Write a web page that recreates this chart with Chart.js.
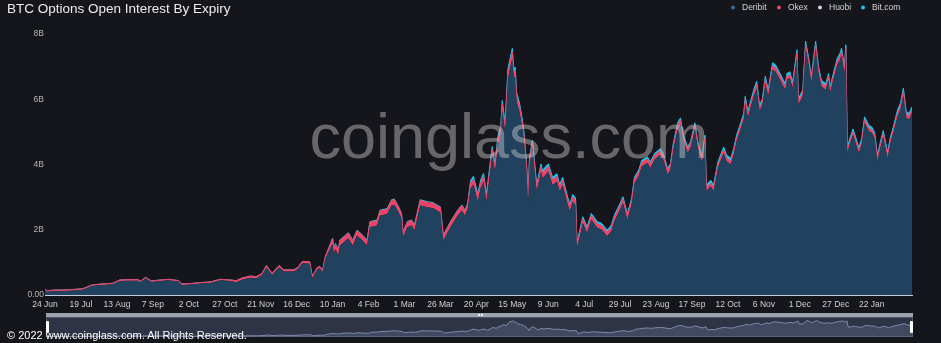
<!DOCTYPE html>
<html><head><meta charset="utf-8">
<script src="https://cdn.jsdelivr.net/npm/chart.js@4"></script>
<style>
html,body{margin:0;padding:0;background:#15161b;}
#wrap{position:relative;width:941px;height:343px;overflow:hidden;background:#15161b;}
#c{position:absolute;left:0;top:0;}
#zoombar{position:absolute;left:46px;top:313px;width:867px;height:4px;background:#9da2ad;}
#zoombody{position:absolute;left:46px;top:317px;width:867px;height:20px;background:#2e3446;box-shadow:inset 0 0 0 1px #50576f;}
#mini{position:absolute;left:46px;top:317px;}
.handle{position:absolute;top:321px;width:3px;height:12px;background:#fff;border-radius:1px;z-index:3;}
.grip{position:absolute;top:314px;width:2px;height:2px;background:#f0f0f0;z-index:3;}
#copy{position:absolute;left:7px;top:329px;font:11px 'Liberation Sans',Arial,sans-serif;color:#fff;z-index:5;white-space:nowrap;line-height:13px;}
</style></head>
<body>
<div id="wrap">
<canvas id="c" width="941" height="343"></canvas>
<div id="zoombar"></div>
<div id="zoombody"></div>
<canvas id="mini" width="867" height="20"></canvas>
<div class="handle" style="left:46px"></div>
<div class="handle" style="left:910px"></div>
<div class="grip" style="left:478px"></div>
<div class="grip" style="left:481px"></div>
<div id="copy">© 2022 www.coinglass.com. All Rights Reserved.</div>
</div>
<script>
// day index since 24 Jun 2020
const days = [
0,1,7,17,26,29,33,40,47,52,
57,65,66,70,74,80,86,93,95,101,
108,115,122,129,133,137,143,147,151,154,
158,161,163,166,173,176,179,184,186,189,
191,193,195,200,201,202,204,205,211,214,
217,221,224,226,231,233,238,241,243,246,
248,249,252,255,257,261,266,270,275,277,
282,287,290,292,294,296,298,301,303,305,
307,311,313,315,317,318,320,322,325,326,
327,328,330,332,333,335,336,337,339,342,
345,346,350,353,356,358,360,363,365,367,
369,370,372,374,377,380,384,387,391,394,
396,400,402,405,408,410,413,415,419,421,
424,428,430,433,435,437,440,442,444,447,
449,452,454,457,459,460,463,465,468,472,
474,477,479,481,483,486,487,489,490,493,
495,497,499,501,503,506,508,510,513,515,
516,518,520,523,524,527,529,531,533,536,
538,540,543,545,546,548,551,553,554,556,
557,558,560,562,566,568,570,573,575,577,
579,581,583,586,588,590,593,595,597,599,
601,603];

// open interest, billions USD
const deribit = [
0.15,0.10,0.12,0.13,0.16,0.21,0.28,0.31,0.33,0.43,
0.44,0.44,0.38,0.51,0.40,0.43,0.45,0.41,0.31,0.32,
0.35,0.37,0.45,0.43,0.39,0.47,0.53,0.51,0.61,0.84,
0.61,0.77,0.84,0.72,0.72,0.80,0.97,0.96,0.51,0.77,
0.83,0.70,1.12,1.57,1.26,1.41,1.21,1.51,1.74,1.51,
1.82,1.66,1.51,2.08,2.13,2.43,2.48,2.74,2.76,2.53,
2.33,1.77,2.08,2.13,1.98,2.74,2.69,2.66,2.53,1.67,
2.08,2.43,2.59,2.43,2.64,3.27,3.39,2.86,3.27,3.48,
2.86,4.29,3.78,4.60,4.91,5.67,5.01,6.64,7.25,6.64,
6.69,5.93,5.62,5.11,4.80,3.74,2.86,3.99,4.50,3.17,
3.78,3.58,3.78,3.37,3.48,3.17,3.37,2.86,2.56,2.86,
2.76,1.44,1.80,2.21,1.90,2.31,2.06,2.01,1.80,1.96,
2.26,2.62,2.82,2.31,2.77,3.43,3.64,3.94,4.05,3.89,
4.15,4.30,4.15,3.69,3.84,4.46,5.07,5.22,4.71,4.35,
4.51,5.07,4.51,4.05,4.71,3.18,3.33,3.18,3.89,4.35,
4.10,4.00,4.30,4.71,4.97,5.38,5.88,5.43,5.63,6.09,
6.34,5.63,5.83,6.50,6.09,6.91,6.85,6.70,6.44,6.29,
6.60,6.65,6.34,7.31,5.83,6.09,7.57,7.11,6.50,7.57,
6.80,6.39,6.29,6.60,6.19,6.55,7.06,7.21,7.36,6.80,
7.46,4.35,4.66,4.91,4.35,4.61,5.27,5.02,4.97,4.81,
4.10,4.51,4.86,4.20,4.66,4.97,5.48,5.68,6.14,5.43,
5.38,5.58];

const okex = [
0.03,0.03,0.03,0.03,0.03,0.03,0.03,0.03,0.03,0.03,
0.03,0.03,0.03,0.03,0.03,0.03,0.03,0.03,0.03,0.03,
0.03,0.03,0.03,0.03,0.05,0.05,0.05,0.05,0.05,0.06,
0.05,0.05,0.06,0.05,0.05,0.05,0.06,0.06,0.05,0.05,
0.05,0.05,0.06,0.15,0.15,0.15,0.15,0.15,0.15,0.15,
0.15,0.15,0.15,0.15,0.15,0.15,0.15,0.16,0.16,0.15,
0.15,0.14,0.15,0.15,0.15,0.16,0.15,0.15,0.15,0.14,
0.15,0.15,0.15,0.15,0.15,0.16,0.16,0.15,0.16,0.16,
0.15,0.17,0.16,0.17,0.17,0.18,0.17,0.19,0.20,0.19,
0.19,0.18,0.17,0.17,0.16,0.15,0.14,0.15,0.16,0.14,
0.15,0.15,0.15,0.15,0.15,0.14,0.15,0.14,0.14,0.14,
0.14,0.12,0.12,0.12,0.12,0.12,0.12,0.12,0.12,0.12,
0.12,0.12,0.12,0.12,0.12,0.12,0.12,0.12,0.12,0.12,
0.12,0.12,0.12,0.12,0.12,0.12,0.13,0.13,0.12,0.12,
0.12,0.13,0.12,0.12,0.10,0.10,0.10,0.10,0.10,0.10,
0.10,0.10,0.10,0.10,0.10,0.10,0.11,0.10,0.10,0.11,
0.11,0.10,0.10,0.11,0.10,0.11,0.11,0.10,0.10,0.10,
0.10,0.10,0.10,0.11,0.10,0.10,0.11,0.10,0.10,0.11,
0.10,0.10,0.10,0.10,0.10,0.10,0.10,0.11,0.11,0.10,
0.11,0.09,0.09,0.09,0.09,0.09,0.10,0.09,0.09,0.09,
0.09,0.09,0.09,0.09,0.09,0.09,0.10,0.10,0.10,0.10,
0.10,0.10];

const huobi = [
0,0,0,0,0,0,0,0,0,0,
0,0,0,0,0,0,0,0,0,0,
0,0,0,0,0,0,0,0,0,0,
0,0,0,0,0,0,0,0,0,0,
0,0,0,0.01,0.01,0.01,0.01,0.01,0.01,0.01,
0.01,0.01,0.01,0.01,0.01,0.01,0.01,0.01,0.01,0.01,
0.01,0.01,0.01,0.01,0.01,0.01,0.01,0.01,0.01,0.01,
0.01,0.01,0.01,0.01,0.01,0.01,0.01,0.01,0.01,0.01,
0.01,0.01,0.01,0.01,0.01,0.01,0.01,0.01,0.01,0.01,
0.01,0.01,0.01,0.01,0.01,0.01,0.01,0.01,0.01,0.01,
0.01,0.01,0.01,0.01,0.01,0.01,0.01,0.01,0.01,0.01,
0.01,0.01,0.01,0.01,0.01,0.01,0.01,0.01,0.01,0.01,
0.01,0.01,0.01,0.01,0.01,0.01,0.01,0.01,0.01,0.01,
0.01,0.01,0.01,0.01,0.01,0.01,0.01,0.01,0.01,0.01,
0.01,0.01,0.01,0.01,0.01,0.01,0.01,0.01,0.01,0.01,
0.01,0.01,0.01,0.01,0.01,0.01,0.01,0.01,0.01,0.01,
0.01,0.01,0.01,0.01,0.01,0.01,0.01,0.01,0.01,0.01,
0.01,0.01,0.01,0.01,0.01,0.01,0.01,0.01,0.01,0.01,
0.01,0.01,0.01,0.01,0.01,0.01,0.01,0.01,0.01,0.01,
0.01,0.01,0.01,0.01,0.01,0.01,0.01,0.01,0.01,0.01,
0.01,0.01,0.01,0.01,0.01,0.01,0.01,0.01,0.01,0.01,
0.01,0.01];

const bitcom = [
0,0,0,0,0,0,0,0,0,0,
0,0,0,0,0,0,0,0,0,0,
0,0,0,0,0,0,0,0,0,0,
0,0,0,0,0,0,0,0,0,0,
0,0,0,0.01,0.01,0.01,0.01,0.01,0.01,0.01,
0.01,0.01,0.01,0.01,0.01,0.01,0.01,0.01,0.01,0.01,
0.01,0.01,0.01,0.01,0.01,0.01,0.01,0.01,0.01,0.01,
0.01,0.01,0.01,0.01,0.01,0.07,0.08,0.07,0.08,0.08,
0.07,0.08,0.08,0.09,0.09,0.10,0.09,0.10,0.10,0.10,
0.10,0.09,0.09,0.08,0.08,0.07,0.07,0.08,0.08,0.07,
0.08,0.08,0.08,0.08,0.08,0.07,0.08,0.07,0.07,0.07,
0.07,0.06,0.06,0.06,0.06,0.06,0.06,0.06,0.06,0.06,
0.06,0.06,0.06,0.06,0.06,0.06,0.06,0.06,0.06,0.06,
0.06,0.06,0.06,0.06,0.06,0.06,0.07,0.07,0.06,0.06,
0.06,0.07,0.06,0.06,0.08,0.08,0.08,0.08,0.08,0.08,
0.08,0.08,0.08,0.08,0.08,0.08,0.09,0.08,0.08,0.09,
0.09,0.08,0.08,0.09,0.08,0.09,0.09,0.08,0.08,0.08,
0.08,0.08,0.08,0.09,0.08,0.08,0.09,0.08,0.08,0.09,
0.08,0.08,0.08,0.08,0.08,0.08,0.08,0.09,0.09,0.08,
0.09,0.08,0.08,0.08,0.08,0.08,0.08,0.08,0.08,0.08,
0.08,0.08,0.08,0.08,0.08,0.08,0.09,0.09,0.09,0.08,
0.08,0.08];

const xTickLabels = ['24 Jun','19 Jul','13 Aug','7 Sep','2 Oct','27 Oct','21 Nov','16 Dec','10 Jan','4 Feb','1 Mar','26 Mar','20 Apr','15 May','9 Jun','4 Jul','29 Jul','23 Aug','17 Sep','12 Oct','6 Nov','1 Dec','27 Dec','22 Jan'];
const yTickLabels = ['0.00','2B','4B','6B','8B'];
const seriesNames = ['Deribit','Okex','Huobi','Bit.com'];
const seriesColors = ['#21425f','#ee4468','#d8d0f0','#1cc4ee'];

const FONT = "'Liberation Sans', Arial, Helvetica, sans-serif";
const seriesData = [deribit, okex, huobi, bitcom];

function pts(arr){ return days.map((d,i)=>({x:d, y:arr[i]})); }

const datasets = seriesData.map((arr, k) => ({
  label: seriesNames[k],
  data: pts(arr),
  borderColor: seriesColors[k],
  backgroundColor: seriesColors[k],
  borderWidth: k === 0 ? 0 : (k === 2 ? 0 : 1),
  fill: k === 0 ? 'origin' : '-1',
  pointRadius: 0,
  tension: 0
}));

const overlay = {
  id: 'overlay',
  afterDatasetsDraw(chart){
    const ctx = chart.ctx;
    ctx.save();
    ctx.font = "63px " + FONT;
    ctx.fillStyle = 'rgba(200,200,200,0.46)';
    ctx.textAlign = 'center';
    ctx.textBaseline = 'alphabetic';
    ctx.fillText('coinglass.com', 509, 158);
    ctx.restore();
  },
  afterDraw(chart){
    const ctx = chart.ctx;
    ctx.save();
    ctx.font = "13.5px " + FONT;
    ctx.fillStyle = '#ececec';
    ctx.textAlign = 'left';
    ctx.textBaseline = 'middle';
    ctx.fillText('BTC Options Open Interest By Expiry', 7, 9);
    const lx = [733, 779, 820, 863];
    ctx.font = "8.5px " + FONT;
    seriesNames.forEach((n, k) => {
      ctx.beginPath();
      ctx.arc(lx[k], 7.5, 2, 0, Math.PI*2);
      ctx.fillStyle = k === 0 ? '#3a6a96' : seriesColors[k];
      ctx.fill();
      ctx.fillStyle = '#d4d4d4';
      ctx.fillText(n, lx[k] + 9, 7.5);
    });
    ctx.restore();
  }
};

new Chart(document.getElementById('c'), {
  type: 'line',
  data: { datasets },
  options: {
    responsive: false,
    animation: false,
    layout: { padding: { left: 0, right: 29, top: 34, bottom: 0 } },
    plugins: { legend: { display: false }, title: { display: false }, tooltip: { enabled: false } },
    scales: {
      x: {
        type: 'linear', min: 0, max: 603,
        grid: { display: false, drawTicks: false },
        border: { display: true, color: '#c5ccd6', width: 1 },
        ticks: {
          stepSize: 25, autoSkip: false, maxRotation: 0, includeBounds: false, padding: 5,
          color: '#d0d0d0', font: { size: 8.5, family: FONT },
          callback: (v) => (v % 25 === 0 && xTickLabels[v/25]) ? xTickLabels[v/25] : ''
        },
        afterFit: (s) => { s.height = 48; }
      },
      y: {
        stacked: true, min: 0, max: 8,
        grid: { display: false, drawTicks: false },
        border: { display: false },
        ticks: {
          stepSize: 2, padding: 1, color: '#b4b4b4', font: { size: 8.5, family: FONT },
          callback: (v) => yTickLabels[v/2] !== undefined ? yTickLabels[v/2] : ''
        },
        afterFit: (s) => { s.width = 45; }
      }
    }
  },
  plugins: [overlay]
});

const totals = days.map((d,i) => ({x:d, y: deribit[i]+okex[i]+huobi[i]+bitcom[i]}));
new Chart(document.getElementById('mini'), {
  type: 'line',
  data: { datasets: [{
    data: totals, borderColor: '#7f8aab', borderWidth: 1,
    backgroundColor: 'rgba(110,122,160,0.3)', fill: 'origin', pointRadius: 0, tension: 0
  }]},
  options: {
    responsive: false, animation: false,
    layout: { padding: 0 },
    plugins: { legend: { display: false }, tooltip: { enabled: false } },
    scales: {
      x: { type: 'linear', min: 0, max: 603, display: false },
      y: { min: 0, max: 9.4, display: false }
    }
  }
});
</script>
</body></html>
